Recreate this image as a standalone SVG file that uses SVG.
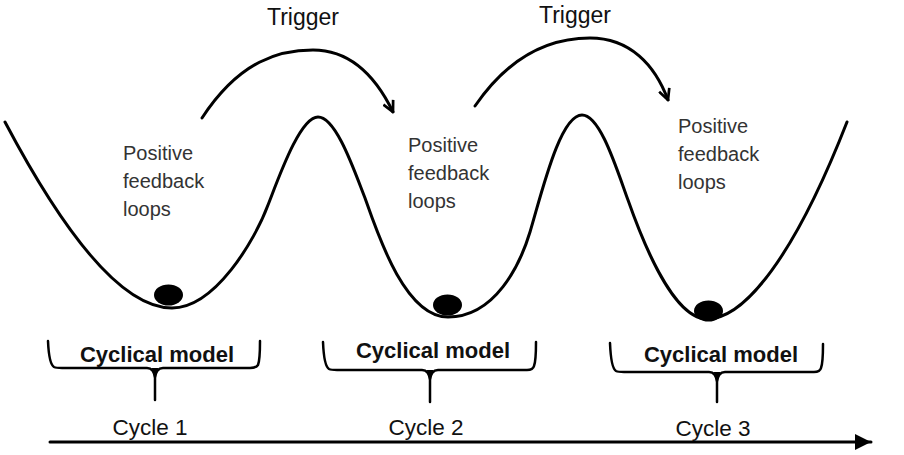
<svg xmlns="http://www.w3.org/2000/svg" width="904" height="455" viewBox="0 0 904 455">
<defs>
<style>
.line{fill:none;stroke:#000;stroke-width:3;stroke-linecap:round;stroke-linejoin:round}
.brace{fill:none;stroke:#000;stroke-width:2.5;stroke-linecap:round;stroke-linejoin:round}
.ball{fill:#000}
.trig{font-family:"Liberation Sans",Arial,sans-serif;font-size:23px;fill:#111}
.pfl{font-family:"Liberation Sans",Arial,sans-serif;font-size:20px;fill:#333}
.model{font-family:"Liberation Sans",Arial,sans-serif;font-size:22px;font-weight:bold;fill:#111}
.cycle{font-family:"Liberation Sans",Arial,sans-serif;font-size:22.5px;fill:#111}
</style>
<marker id="open" viewBox="0 0 12 12" refX="11" refY="6" markerWidth="13" markerHeight="13" markerUnits="userSpaceOnUse" orient="auto">
<path d="M1,1 L11,6 L1,11" fill="none" stroke="#000" stroke-width="2.5" stroke-linejoin="miter"/>
</marker>
<marker id="solid" viewBox="0 0 18 18" refX="17" refY="9" markerWidth="18" markerHeight="18" markerUnits="userSpaceOnUse" orient="auto">
<path d="M1,1 L17,9 L1,17 Z" fill="#000"/>
</marker>
</defs>
<rect width="904" height="455" fill="#fff"/>

<g id="landscape">
<path class="line" d="M5,122 C42,192 110,308 172,308 C215,308 255,240 268,205 C279,177 300,117 318,117 C336,117 354,170 365,198 C378,235 405,317 448,317 C495,317 520,265 530,232 C542,192 560,115 582,115 C600,115 616,167 628,200 C640,234 672,319 707,319 C745,319 795,255 847,122"/>
</g>

<g id="ball1"><ellipse class="ball" cx="168.5" cy="295" rx="14.5" ry="10.5"/></g>
<g id="ball2"><ellipse class="ball" cx="447.5" cy="305" rx="14.5" ry="10.5"/></g>
<g id="ball3"><ellipse class="ball" cx="708.5" cy="311" rx="14.5" ry="10.5"/></g>

<g id="pfl1">
<text class="pfl" x="123" y="160">Positive</text>
<text class="pfl" x="123" y="188">feedback</text>
<text class="pfl" x="123" y="216">loops</text>
</g>
<g id="pfl2">
<text class="pfl" x="408" y="152">Positive</text>
<text class="pfl" x="408" y="180">feedback</text>
<text class="pfl" x="408" y="208">loops</text>
</g>
<g id="pfl3">
<text class="pfl" x="678" y="133">Positive</text>
<text class="pfl" x="678" y="161">feedback</text>
<text class="pfl" x="678" y="189">loops</text>
</g>

<g id="trigger1"><text class="trig" x="303" y="25" text-anchor="middle">Trigger</text></g>
<g id="trigger2"><text class="trig" x="575" y="23" text-anchor="middle">Trigger</text></g>

<g id="connectors">
<path class="line" marker-end="url(#open)" d="M202,118 C240,60 280,50 313,50 C350,50 375,75 393,112"/>
<path class="line" marker-end="url(#open)" d="M475,106 C510,55 550,38 590,38 C630,38 655,65 668,100"/>
<path class="line" marker-end="url(#solid)" d="M50,442 L871,442"/>
</g>

<g id="model1">
<path class="brace" d="M48,341 Q49,364 54,367 Q56,368 62,368 L147,368 Q154,368 155,378 L155,400 M155,378 Q156,368 163,368 L250,368 Q256,368 258,365 Q260,360 260,341"/>
<path d="M151,368 Q155,370 155,380 Q155,370 159,368 Z" fill="#000"/>
<text class="model" x="157" y="362" text-anchor="middle">Cyclical model</text>
</g>
<g id="model2">
<path class="brace" d="M323,342 Q324,366 329,369 Q331,370 337,370 L422,370 Q429,370 430,380 L430,402 M430,380 Q431,370 438,370 L527,370 Q533,370 534,366 Q536,361 536,342"/>
<path d="M426,370 Q430,372 430,382 Q430,372 434,370 Z" fill="#000"/>
<text class="model" x="433" y="358" text-anchor="middle">Cyclical model</text>
</g>
<g id="model3">
<path class="brace" d="M610,343 Q611,368 616,371 Q618,372 624,372 L709,372 Q716,372 717,382 L717,402 M717,382 Q718,372 725,372 L814,372 Q820,372 821,368 Q823,363 823,344"/>
<path d="M713,372 Q717,374 717,384 Q717,374 721,372 Z" fill="#000"/>
<text class="model" x="721" y="362" text-anchor="middle">Cyclical model</text>
</g>

<g id="cycle1"><text class="cycle" x="150" y="435" text-anchor="middle">Cycle 1</text></g>
<g id="cycle2"><text class="cycle" x="426" y="435" text-anchor="middle">Cycle 2</text></g>
<g id="cycle3"><text class="cycle" x="713" y="436" text-anchor="middle">Cycle 3</text></g>
</svg>
